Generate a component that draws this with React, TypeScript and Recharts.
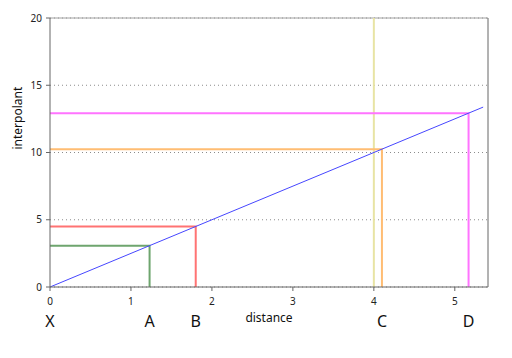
import React from 'react'
import { LineChart, Line, XAxis, YAxis, CartesianGrid, ReferenceLine, Label } from 'recharts'

// points along the line, X is the origin
const pointNames = ['X', 'A', 'B', 'C', 'D']
const pointX = [0, 1.23, 1.8, 4.1, 5.17]
const pointY = [0, 3.075, 4.5, 10.25, 12.925]
const dropColors = ['', '#6ea56e', '#ff7373', '#ffbd73', '#ff73ff']

const lineX = [0, 5.35]
const lineY = [0, 13.375]

const markerX = 4
const yTicks = [0, 5, 10, 15, 20]
const xTicks = [0, 1, 2, 3, 4, 5]
const xMax = 5.41

const FONT = '"Noto Sans", "Open Sans", sans-serif'

const mainLine = lineX.map((x, i) => ({ x, y: lineY[i] }))

const drops = pointNames.slice(1).map((name, j) => {
  const i = j + 1
  return {
    name,
    color: dropColors[i],
    data: [
      { x: 0, y: pointY[i] },
      { x: pointX[i], y: pointY[i] },
      { x: pointX[i], y: 0 },
    ],
  }
})

function LetterTick(props: any) {
  const { x, y, payload } = props
  const idx = pointX.indexOf(payload.value)
  return (
    <text x={x} y={y + 14} textAnchor="middle" fontSize={16} fontFamily={FONT} fill="#111">
      {pointNames[idx]}
    </text>
  )
}

export default function App() {
  return (
    <div style={{ position: 'absolute', left: 0, top: 0, background: '#fff' }}>
      <LineChart width={512} height={358} margin={{ top: 18, right: 24, left: 0, bottom: 17 }}>
        <CartesianGrid vertical={false} strokeDasharray="1 3" stroke="#8c8c8c" />
        <XAxis
          xAxisId="a0"
          type="number"
          dataKey="x"
          domain={[0, xMax]}
          ticks={xTicks}
          allowDataOverflow
          height={24}
          tickSize={4}
          tickMargin={7}
          tick={{ fill: '#222', fontSize: 10, fontFamily: FONT }}
          axisLine={{ stroke: '#666' }}
          tickLine={{ stroke: '#666' }}
        />
        <XAxis
          xAxisId="a1"
          type="number"
          dataKey="x"
          domain={[0, xMax]}
          ticks={pointX}
          allowDataOverflow
          height={30}
          axisLine={false}
          tickLine={false}
          tickSize={0}
          tick={<LetterTick />}
        >
          <Label value="distance" position="insideTop" offset={2} fill="#111" fontSize={12} fontFamily={FONT} />
        </XAxis>
        <YAxis
          type="number"
          domain={[0, 20]}
          ticks={yTicks}
          width={50}
          tickSize={4}
          tickMargin={4}
          tick={{ fill: '#222', fontSize: 10, fontFamily: FONT }}
          axisLine={{ stroke: '#666' }}
          tickLine={{ stroke: '#666' }}
        >
          <Label value="interpolant" angle={-90} position="insideLeft" offset={18} dy={-3} fill="#111" fontSize={12} fontFamily={FONT} />
        </YAxis>
        <ReferenceLine xAxisId="a0" y={20} stroke="#a0a0a0" />
        <ReferenceLine xAxisId="a0" x={xMax} stroke="#666" />
        <ReferenceLine xAxisId="a0" x={markerX} stroke="#e8e4a4" strokeWidth={2} />
        {drops.map((d) => (
          <Line
            key={d.name}
            xAxisId="a0"
            data={d.data}
            dataKey="y"
            type="linear"
            stroke={d.color}
            strokeWidth={2}
            dot={false}
            isAnimationActive={false}
          />
        ))}
        <Line
          xAxisId="a0"
          data={mainLine}
          dataKey="y"
          type="linear"
          stroke="#4646ff"
          strokeWidth={1}
          dot={false}
          isAnimationActive={false}
        />
      </LineChart>
    </div>
  )
}
